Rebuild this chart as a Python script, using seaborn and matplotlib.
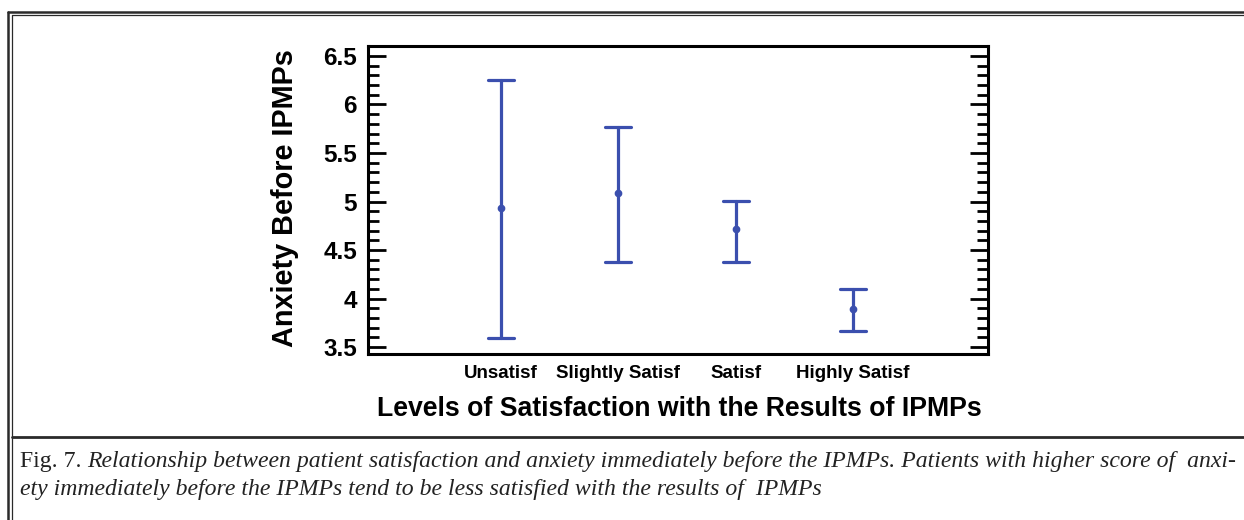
import numpy as np
import pandas as pd
import matplotlib
matplotlib.use("Agg")
import matplotlib.pyplot as plt
from matplotlib.lines import Line2D
from matplotlib.ticker import MultipleLocator, FuncFormatter
import seaborn as sns

# ---- data ----
categories = ["Unsatisf", "Slightly Satisf", "Satisf", "Highly Satisf"]
means = [4.93, 5.09, 4.72, 3.89]
lower = [3.59, 4.38, 4.38, 3.665]
upper = [6.25, 5.77, 5.005, 4.10]
y_ticks = [3.5, 4.0, 4.5, 5.0, 5.5, 6.0, 6.5]
y_label = "Anxiety Before IPMPs"
x_label = "Levels of Satisfaction with the Results of IPMPs"
caption_head = "Fig. 7. "
caption_line1 = ("Relationship between patient satisfaction and anxiety immediately before the IPMPs. "
                 "Patients with higher score of  anxi-")
caption_line2 = "ety immediately before the IPMPs tend to be less satisfied with the results of  IPMPs"

# long table: low / mean / high per category -> median = mean, 100% interval = range
rows = []
for c, lo, m, hi in zip(categories, lower, means, upper):
    for v in (lo, m, hi):
        rows.append({"level": c, "anxiety": v})
df = pd.DataFrame(rows)

sns.set_theme(style="white")
plt.rcParams["font.family"] = ["Liberation Sans", "DejaVu Sans"]
plt.rcParams["text.color"] = "black"
plt.rcParams["xtick.color"] = "black"
plt.rcParams["ytick.color"] = "black"
plt.rcParams["xtick.labelcolor"] = "black"
plt.rcParams["ytick.labelcolor"] = "black"

BLUE = "#3b4fae"
fig = plt.figure(figsize=(12.44, 5.2), dpi=100)
ax = fig.add_axes([368 / 1244, 1 - 354 / 520, 620 / 1244, 308 / 520])

sns.pointplot(data=df, x="level", y="anxiety", order=categories,
              estimator=np.median, errorbar=("pi", 100),
              color=BLUE, linestyle="none", markers="o", markersize=3.5,
              capsize=0.22, err_kws={"linewidth": 2.3}, ax=ax)

ax.set_xlim(-1.134, 4.15)
ax.set_ylim(3.428, 6.603)
ax.set_yticks(y_ticks)
ax.yaxis.set_minor_locator(MultipleLocator(0.1))
ax.yaxis.set_major_formatter(FuncFormatter(lambda v, p: f"{v:g}"))
ax.tick_params(axis="y", which="both", direction="in", left=True, right=True,
               width=2, color="black", labelsize=17.5, labelcolor="black")
ax.tick_params(axis="y", which="major", length=13, pad=8)
ax.tick_params(axis="y", which="minor", length=8)
ax.tick_params(axis="x", length=0, labelsize=13.5, pad=8, labelcolor="black")
for lab in ax.get_yticklabels() + ax.get_xticklabels():
    lab.set_fontweight("bold")
for s in ax.spines.values():
    s.set_visible(True)
    s.set_color("black")
    s.set_linewidth(2.2)

ax.set_xlabel("")
ax.set_ylabel("")
fig.text(285 / 1244, 1 - 198 / 520, y_label, rotation=90, ha="center", va="center",
         fontsize=20.8, fontweight="bold", color="black")
fig.text(679 / 1244, 1 - 409 / 520, x_label, ha="center", va="center",
         fontsize=19.2, fontweight="bold", color="black")

# frame decoration
W, H = 1244, 520
def fl(x0, y0, x1, y1, lw, col="#2a2a2a"):
    fig.add_artist(Line2D([x0 / W, x1 / W], [1 - y0 / H, 1 - y1 / H],
                          transform=fig.transFigure, lw=lw, color=col))
fl(8, 11.5, 8, H, 1.8)
fl(8, 11.5, W, 11.5, 1.8)
fl(11.5, 15, 11.5, H, 0.9)
fl(11.5, 15, W, 15, 0.9)
fl(11.5, 437, W, 437, 2.0)

# caption
serif = ["Liberation Serif", "DejaVu Serif"]
CS = 17.1
t1 = fig.text(20 / W, 1 - 462 / H, caption_head, ha="left", va="center",
              fontsize=CS, family=serif, color="#222222")
fig.canvas.draw()
bb = t1.get_window_extent()
fig.text(bb.x1 / W, 1 - 462 / H, caption_line1, ha="left", va="center",
         fontsize=CS, family=serif, style="italic", color="#222222")
fig.text(20 / W, 1 - 490 / H, caption_line2, ha="left", va="center",
         fontsize=CS, family=serif, style="italic", color="#222222")

fig.savefig("out.png", dpi=100)
